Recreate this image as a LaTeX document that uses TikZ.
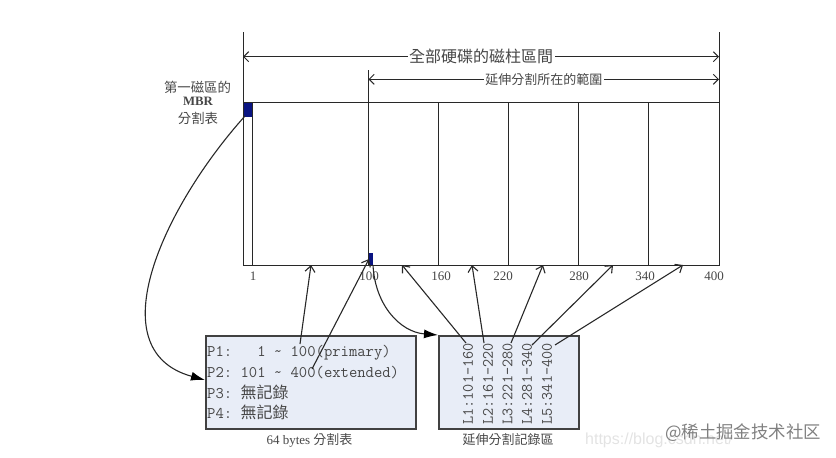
\documentclass[tikz,border=0pt]{standalone}
\usepackage{fontspec}
\setmainfont{Liberation Serif}
\setsansfont{Liberation Sans}
\newfontfamily\cjk{Noto Sans CJK TC}
\newfontfamily\wm{Noto Sans CJK SC}
\usetikzlibrary{arrows.meta,calc}
\definecolor{ink}{RGB}{40,40,40}
\definecolor{soft}{RGB}{70,70,70}
\definecolor{boxfill}{RGB}{232,237,247}
\definecolor{boxedge}{RGB}{65,65,65}
\definecolor{mbr}{RGB}{10,20,130}
\tikzset{
  x=1pt,y=-1pt,
  rule/.style={draw=ink,line width=1pt},
  dim/.style={draw=ink,line width=1pt,{Straight Barb[length=5pt,width=10pt]}-{Straight Barb[length=5pt,width=10pt]}},
  ptr/.style={draw=ink,line width=1.1pt,-{Straight Barb[length=6pt,width=10pt]}},
  curv/.style={draw=ink,line width=1.1pt,-{Latex[length=14pt,width=9pt,color=black]}},
  lab/.style={inner sep=0pt,text=soft,font=\fontsize{13}{15}\selectfont},
  tick/.style={inner sep=0pt,text=soft,font=\fontsize{13}{15}\selectfont},
  dimlab/.style={fill=white,inner sep=1.5pt,text=soft,font=\cjk\fontsize{16}{18}\selectfont},
  tablebox/.style={draw=boxedge,line width=1.6pt,fill=boxfill,inner sep=0pt,anchor=north west},
  mono/.style={inner sep=0pt,anchor=west,text=soft,font=\ttfamily\fontsize{16.2}{18}\selectfont},
  vert/.style={inner sep=0pt,anchor=east,rotate=90,text=soft,font=\ttfamily\fontsize{15.8}{18}\selectfont},
}
\begin{document}
\begin{tikzpicture}
\useasboundingbox (0,0) rectangle (836,458);
% guide coordinates
\coordinate (tl) at (243,102); \coordinate (tr) at (719,102);
\coordinate (bl) at (243,265); \coordinate (br) at (719,265);
% disk rectangle
\draw[rule] (tl) -- (tr) -- (br) -- (bl) -- cycle;
\draw[rule] (243,32) -- (bl);
\draw[rule] (719,32) -- (br);
\draw[rule] (368.5,70) -- (368.5,265);
\foreach \x in {252,438.5,508.5,578.5,648.5} \draw[rule] (\x,102) -- (\x,265);
% MBR markers
\fill[mbr] (243.5,102.5) rectangle (252,117);
\fill[mbr] (369,253) rectangle (373,265);
% dimension lines
\coordinate (a1) at (243,56.7); \coordinate (a2) at (719,56.7);
\coordinate (b1) at (368.5,79.3); \coordinate (b2) at (719,79.3);
\draw[dim] (a1) -- (a2) node[midway,dimlab] (alltxt) {全部硬碟的磁柱區間};
\draw[dim] (b1) -- (b2) node[pos=0.5,dimlab,font=\cjk\fontsize{13}{15}\selectfont] (exttxt) {延伸分割所在的範圍};
% MBR label
\node[lab,font=\cjk\fontsize{13.4}{15}\selectfont] (l1) at (197.5,87) {第一磁區的};
\node[lab,font=\bfseries\fontsize{12.8}{15}\selectfont] (l2) at (198,101.5) {MBR};
\node[lab,font=\cjk\fontsize{13.4}{15}\selectfont] (l3) at (198,118) {分割表};
% ticks
\foreach \n/\x/\t in {t1/253/1,t100/369/100,t160/441/160,t220/503/220,t280/579/280,t340/645/340,t400/714/400}
  \node[tick] (\n) at (\x,276) {\t};
% tables
\node[tablebox,minimum width=210pt,minimum height=93pt] (ptab) at (205,335) {};
\node[tablebox,minimum width=140pt,minimum height=93pt] (ltab) at (438,335) {};
\node[mono] (p1) at (207,353) {P1:\ \ \ 1\ \textasciitilde\ 100(primary)};
\node[mono] (p2) at (207,372.7) {P2:\ 101\ \textasciitilde\ 400(extended)};
\node[mono] (p3) at (207,392) {P3:\ {\cjk\fontsize{16}{18}\selectfont 無記錄}};
\node[mono] (p4) at (207,412) {P4:\ {\cjk\fontsize{16}{18}\selectfont 無記錄}};
\node[vert] (v1) at (468,343) {L1:101-160};
\node[vert] (v2) at (488,343) {L2:161-220};
\node[vert] (v3) at (507.5,343) {L3:221-280};
\node[vert] (v4) at (527,343) {L4:281-340};
\node[vert] (v5) at (547,343) {L5:341-400};
\node[lab] (c1) at (309.5,440) {64 bytes {\cjk 分割表}};
\node[lab,font=\cjk\fontsize{13}{15}\selectfont] (c2) at (508,440) {延伸分割記錄區};
% pointer targets on the axis
\coordinate (g1) at (311,265); \coordinate (g2) at (369,259);
\coordinate (g3) at (402,265); \coordinate (g4) at (472,265);
\coordinate (g5) at (543,265); \coordinate (g6) at (613,265);
\coordinate (g7) at (683,265);
\coordinate (s1) at (300,344); \coordinate (s2) at (312,369);
\coordinate (d1) at (466,343); \coordinate (d2) at (484,343);
\coordinate (d3) at (511,343); \coordinate (d4) at (532,345);
\coordinate (d5) at (555,345);
\draw[ptr] (s1) -- (g1);
\draw[ptr] (s2) -- (g2);
\draw[ptr] (d1) -- (g3);
\draw[ptr] (d2) -- (g4);
\draw[ptr] (d3) -- (g5);
\draw[ptr] (d4) -- (g6);
\draw[ptr] (d5) -- (g7);
% curved connectors
\coordinate (m1) at (245,116);
\coordinate (m2) at (373,265);
\draw[curv] (m1) .. controls (165,205) and (96,350) .. (ptab.west |- 0,380);
\draw[curv] (m2) .. controls (375,305) and (400,332) .. (ltab.north west);
% watermark
\node[inner sep=0pt,text=gray!22,font=\sffamily\fontsize{16}{18}\selectfont,anchor=west] (url) at (585,440) {https://blog.csdn.net/};
\node[inner sep=0pt,text=black!50,font=\wm\fontsize{17.4}{20}\selectfont,anchor=west] (wmk) at (665,433) {@稀土掘金技术社区};
\end{tikzpicture}
\end{document}
